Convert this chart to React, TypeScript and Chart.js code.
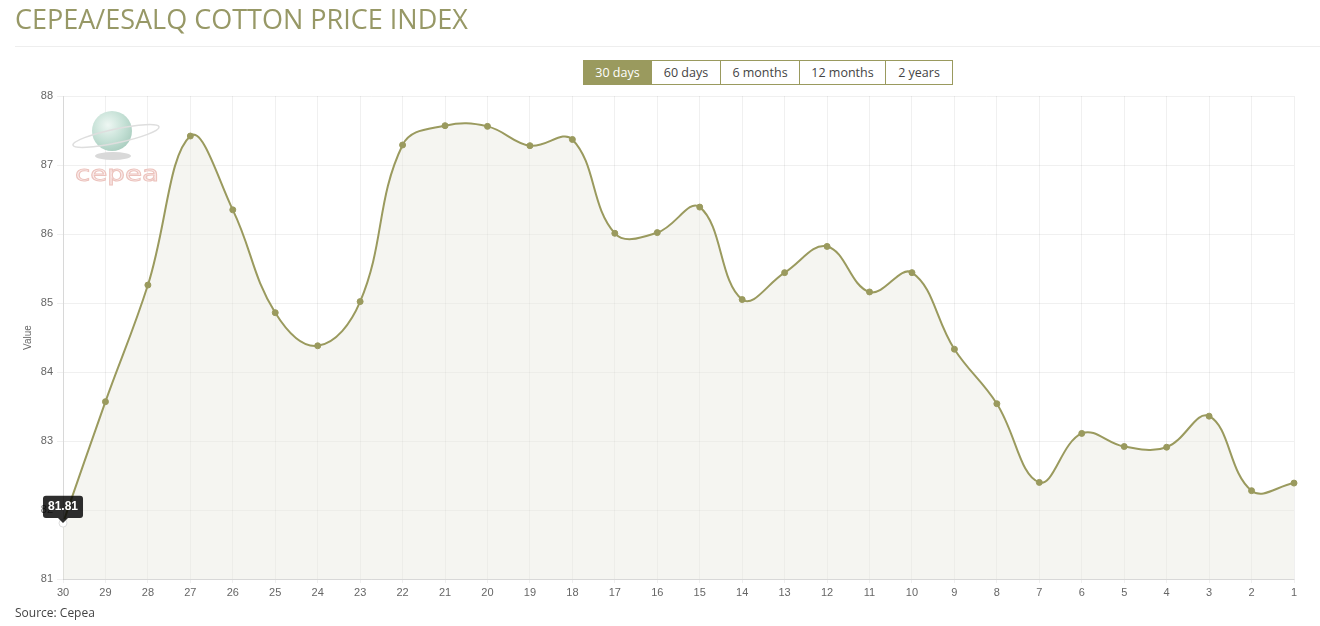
import React, { useEffect, useRef } from "react";
import { Chart, registerables } from "chart.js";

Chart.register(...registerables);

const TITLE = "CEPEA/ESALQ COTTON PRICE INDEX";
const RANGE_BUTTONS = ["30 days", "60 days", "6 months", "12 months", "2 years"];
const DAY_LABELS = [
  "30", "29", "28", "27", "26", "25", "24", "23", "22", "21",
  "20", "19", "18", "17", "16", "15", "14", "13", "12", "11",
  "10", "9", "8", "7", "6", "5", "4", "3", "2", "1",
];
const PRICE_VALUES = [
  81.81, 83.57, 85.26, 87.42, 86.35, 84.86, 84.38, 85.02, 87.29, 87.57,
  87.56, 87.28, 87.37, 86.01, 86.02, 86.39, 85.05, 85.44, 85.82, 85.16,
  85.44, 84.33, 83.54, 82.4, 83.11, 82.92, 82.91, 83.36, 82.28, 82.39,
];
const Y_MIN = 81;
const Y_MAX = 88;
const Y_AXIS_TITLE = "Value";
const SOURCE_TEXT = "Source: Cepea";

const OLIVE = "#9a9a5e";
const FONT = "'Open Sans', sans-serif";

function Logo() {
  return (
    <svg
      width="100"
      height="95"
      style={{ position: "absolute", left: 68, top: 96, pointerEvents: "none" }}
    >
      <defs>
        <radialGradient id="g1" cx="40%" cy="35%" r="70%">
          <stop offset="0%" stopColor="#eef7f3" />
          <stop offset="60%" stopColor="#c4e0d5" />
          <stop offset="100%" stopColor="#a9cdbf" />
        </radialGradient>
      </defs>
      <ellipse cx="45" cy="60" rx="18" ry="4" fill="#d9d9d9" />
      <circle cx="44" cy="35" r="20" fill="url(#g1)" />
      <ellipse
        cx="48"
        cy="40"
        rx="44"
        ry="7"
        fill="none"
        stroke="#dedede"
        strokeWidth="1.5"
        transform="rotate(-12 48 40)"
      />
      <text
        x="7"
        y="85"
        fontFamily="'DejaVu Sans', sans-serif"
        fontSize="22"
        fill="#fbeeee"
        stroke="#ecc3bd"
        strokeWidth="1"
        textLength="84"
        lengthAdjust="spacingAndGlyphs"
      >
        cepea
      </text>
    </svg>
  );
}

export default function App() {
  const canvasRef = useRef<HTMLCanvasElement | null>(null);

  useEffect(() => {
    const canvas = canvasRef.current;
    if (!canvas) return;
    const chart = new Chart(canvas, {
      type: "line",
      data: {
        labels: DAY_LABELS,
        datasets: [
          {
            data: PRICE_VALUES,
            borderColor: OLIVE,
            borderWidth: 2,
            backgroundColor: "rgba(232,232,222,0.42)",
            fill: "start",
            tension: 0.4,
            pointRadius: 3,
            pointBackgroundColor: OLIVE,
            pointBorderColor: OLIVE,
            pointBorderWidth: 1,
            pointHoverRadius: 4,
            pointHoverBackgroundColor: "#ffffff",
            pointHoverBorderColor: "#dddddd",
            pointHoverBorderWidth: 1,
          },
        ],
      },
      options: {
        animation: false,
        responsive: false,
        maintainAspectRatio: false,
        layout: { padding: { left: 15, right: 26, top: 96, bottom: 0 } },
        plugins: {
          legend: { display: false },
          tooltip: {
            enabled: true,
            displayColors: false,
            backgroundColor: "rgba(0,0,0,0.82)",
            bodyColor: "#ffffff",
            bodyFont: { family: "Arial, 'Liberation Sans', sans-serif", size: 12, weight: "bold" },
            padding: { top: 4, bottom: 4, left: 5, right: 5 },
            caretSize: 5,
            caretPadding: 0,
            cornerRadius: 3,
            yAlign: "bottom",
            xAlign: "center",
            callbacks: {
              title: () => "",
              label: (ctx: any) => String(ctx.parsed.y),
            },
          },
        },
        scales: {
          x: {
            grid: {
              color: "rgba(0,0,0,0.06)",
              tickLength: 4,
              drawTicks: true,
            },
            border: { color: "rgba(0,0,0,0.1)" },
            ticks: {
              color: "#666",
              font: { family: "Arial, 'Liberation Sans', sans-serif", size: 11 },
              padding: 3,
              maxRotation: 0,
              autoSkip: false,
            },
            afterFit: (scale: any) => {
              scale.height = 47;
            },
          },
          y: {
            min: Y_MIN,
            max: Y_MAX,
            grid: {
              color: "rgba(0,0,0,0.06)",
              tickLength: 6,
            },
            border: { color: "rgba(0,0,0,0.1)" },
            ticks: {
              stepSize: 1,
              color: "#666",
              font: { family: "Arial, 'Liberation Sans', sans-serif", size: 11 },
              padding: 4,
            },
            title: {
              display: true,
              text: Y_AXIS_TITLE,
              color: "#666",
              font: { family: "Arial, 'Liberation Sans', sans-serif", size: 10 },
              padding: { top: 7, bottom: 0 },
            },
            afterFit: (scale: any) => {
              scale.width = 48;
            },
          },
        },
      },
    });
    const active = [{ datasetIndex: 0, index: 0 }];
    chart.setActiveElements(active);
    chart.tooltip?.setActiveElements(active, { x: 0, y: 0 });
    chart.update();
    return () => chart.destroy();
  }, []);

  return (
    <div
      style={{
        position: "fixed",
        left: 0,
        top: 0,
        width: 1320,
        height: 626,
        background: "#fff",
        overflow: "hidden",
      }}
    >
      <canvas
        ref={canvasRef}
        width={1320}
        height={626}
        style={{ position: "absolute", left: 0, top: 0, width: 1320, height: 626 }}
      />
      <Logo />
      <div
        style={{
          position: "absolute",
          left: 15,
          top: 0,
          fontFamily: FONT,
          fontSize: 27,
          lineHeight: "37px",
          color: "#979866",
          whiteSpace: "nowrap",
        }}
      >
        {TITLE}
      </div>
      <div
        style={{
          position: "absolute",
          left: 15,
          right: 0,
          top: 46,
          height: 1,
          background: "#eeeeee",
        }}
      />
      <div
        style={{
          position: "absolute",
          left: 583,
          top: 60,
          display: "flex",
          height: 25,
        }}
      >
        {RANGE_BUTTONS.map((b, i) => (
          <div
            key={b}
            style={{
              width: [69, 69, 79, 86, 67][i],
              height: 25,
              boxSizing: "border-box",
              border: `1px solid ${OLIVE}`,
              borderLeftWidth: i === 0 ? 1 : 0,
              background: i === 0 ? OLIVE : "#fff",
              color: i === 0 ? "#fff" : "#444",
              fontFamily: FONT,
              fontSize: 12.5,
              display: "flex",
              alignItems: "center",
              justifyContent: "center",
            }}
          >
            {b}
          </div>
        ))}
      </div>
      <div
        style={{
          position: "absolute",
          left: 15,
          top: 604,
          fontFamily: FONT,
          fontSize: 12,
          lineHeight: "18px",
          color: "#444",
        }}
      >
        {SOURCE_TEXT}
      </div>
    </div>
  );
}
